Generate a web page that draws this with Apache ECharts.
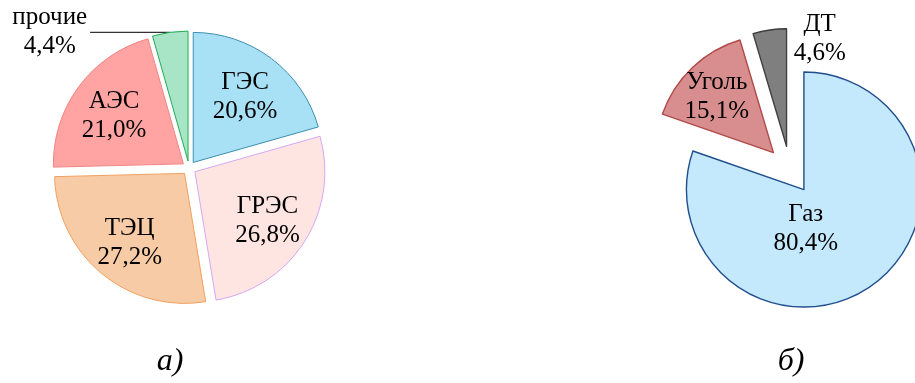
<!DOCTYPE html>
<html>
<head>
<meta charset="utf-8">
<script src="https://cdn.jsdelivr.net/npm/echarts@6/dist/echarts.min.js"></script>
<style>
  html, body { margin: 0; padding: 0; background: #fff; }
  #chart { width: 915px; height: 383px; }
</style>
</head>
<body>
<div id="chart"></div>
<script>
// а) структура установленной мощности по типам станций
const plantNames = ['ГЭС', 'ГРЭС', 'ТЭЦ', 'АЭС', 'прочие'];
const plantShares = [20.6, 26.8, 27.2, 21.0, 4.4];

// б) структура топлива
const fuelNames = ['Газ', 'Уголь', 'ДТ'];
const fuelShares = [80.4, 15.1, 4.6];

const panelCaptions = ['а)', 'б)'];

const FONT = '"Liberation Serif", "Times New Roman", serif';

const plantFill = ['#a8e1f6', '#fee5e2', '#f6cba6', '#ffa3a3', '#a8e4c6'];
const plantEdge = ['#3c8fb2', '#d6a8f2', '#f2a05e', '#f28484', '#1fae55'];
const fuelFill = ['#c4e8fc', '#d88e8e', '#7f7f7f'];
const fuelEdge = ['#1f4e8c', '#b04a48', '#3f3f3f'];

function fmt(v) { return v.toFixed(1).replace('.', ',') + '%'; }

const labelText = {
  color: '#000',
  fontFamily: FONT,
  fontSize: 25,
  lineHeight: 29,
  formatter: p => p.name + '\n' + fmt(p.value)
};

// main slices of the left pie; only the small slice carries an outside label
const plantData = plantNames.map((n, i) => ({
  name: n,
  value: plantShares[i],
  selected: true,
  itemStyle: { color: plantFill[i], borderColor: plantEdge[i], borderWidth: 1 },
  label: { show: i === plantNames.length - 1 },
  labelLine: { show: i === plantNames.length - 1 }
}));

// transparent ring sharing the same angles; it carries the inner labels further out
const plantLabelRing = plantNames.map((n, i) => ({
  name: n,
  value: plantShares[i],
  selected: true,
  label: { show: i !== plantNames.length - 1 }
}));

const fuelData = fuelNames.map((n, i) => ({
  name: n,
  value: fuelShares[i],
  selected: true,
  itemStyle: { color: fuelFill[i], borderColor: fuelEdge[i], borderWidth: 1.4 }
}));

// label nudges for the right pie (Газ, Уголь, ДТ)
const fuelNudge = [[-34, -11], [-14, -11], [42, -46]];

const captionStyle = { fontFamily: FONT, fontStyle: 'italic', fontWeight: 'normal', fontSize: 32, color: '#000' };

const chart = echarts.init(document.getElementById('chart'), null, { renderer: 'canvas' });

chart.setOption({
  animation: false,
  backgroundColor: '#fff',
  title: [
    { text: panelCaptions[0], left: 165, top: 341, textAlign: 'center', textStyle: captionStyle },
    { text: panelCaptions[1], left: 786, top: 341, textAlign: 'center', textStyle: captionStyle }
  ],
  series: [
    {
      type: 'pie',
      center: [189, 168],
      radius: 130,
      startAngle: 90,
      clockwise: true,
      selectedMode: 'multiple',
      selectedOffset: 7,
      emphasis: { disabled: true },
      label: Object.assign({ position: 'outside', distanceToLabelLine: 3 }, labelText),
      labelLine: { length: 0, length2: 80, smooth: false, lineStyle: { color: '#000', width: 1 } },
      labelLayout: function (p) {
        return { align: 'center', dx: -p.labelRect.width / 2 };
      },
      data: plantData
    },
    {
      type: 'pie',
      center: [189, 168],
      radius: 166,
      startAngle: 90,
      clockwise: true,
      silent: true,
      selectedMode: 'multiple',
      selectedOffset: 7,
      emphasis: { disabled: true },
      itemStyle: { color: 'rgba(0,0,0,0)', borderWidth: 0 },
      label: Object.assign({ position: 'inside' }, labelText),
      labelLine: { show: false },
      labelLayout: function () { return { dy: 3 }; },
      data: plantLabelRing
    },
    {
      type: 'pie',
      center: [790, 170],
      radius: 117.5,
      startAngle: 90,
      clockwise: true,
      selectedMode: 'multiple',
      selectedOffset: 24,
      emphasis: { disabled: true },
      label: Object.assign({ position: 'inside' }, labelText),
      labelLine: { show: false },
      labelLayout: function (p) {
        const d = fuelNudge[p.dataIndex];
        return { dx: d[0], dy: d[1] };
      },
      data: fuelData
    }
  ]
});
</script>
</body>
</html>
